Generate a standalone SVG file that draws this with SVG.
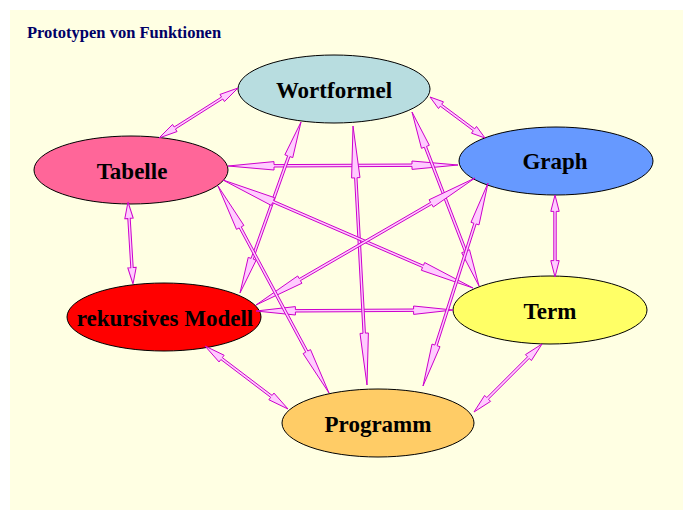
<svg xmlns="http://www.w3.org/2000/svg" xmlns:xlink="http://www.w3.org/1999/xlink" width="685" height="513" viewBox="0 0 685 513">
  <style>
    .node ellipse { stroke: #000; stroke-width: 1; }
    .node text { font-family: "Liberation Serif", "Times New Roman", serif; font-weight: bold; font-size: 23px; fill: #000; text-anchor: middle; }
    .title { font-family: "Liberation Serif", "Times New Roman", serif; font-weight: bold; font-size: 16.5px; fill: #000066; }
    .arr { fill: #ffccff; stroke: #cc00cc; stroke-width: 1; }
  </style>
  <defs>
    <polygon id="dbl" vector-effect="non-scaling-stroke" points="0,0 20,-4.2 20,-1.2 80,-1.2 80,-4.2 100,0 80,4.2 80,1.2 20,1.2 20,4.2"/>
  </defs>
  <rect x="10" y="10" width="673" height="500" fill="#ffffe3"/>
  <text class="title" x="27" y="38">Prototypen von Funktionen</text>

  <g id="wortformel" class="node">
    <ellipse cx="334" cy="89" rx="96" ry="34" fill="#b8dde0"/>
    <text x="334" y="98">Wortformel</text>
  </g>
  <g id="graph" class="node">
    <ellipse cx="556" cy="161" rx="97" ry="34" fill="#6699ff"/>
    <text x="555" y="169">Graph</text>
  </g>
  <g id="tabelle" class="node">
    <ellipse cx="131" cy="170" rx="97" ry="34" fill="#ff6699"/>
    <text x="132" y="179">Tabelle</text>
  </g>
  <g id="rekursives-modell" class="node">
    <ellipse cx="164" cy="317" rx="97" ry="34" fill="#ff0000"/>
    <text x="165" y="326">rekursives Modell</text>
  </g>
  <g id="term" class="node">
    <ellipse cx="550" cy="310" rx="97" ry="34" fill="#ffff66"/>
    <text x="550" y="319">Term</text>
  </g>
  <g id="programm" class="node">
    <ellipse cx="378" cy="423" rx="96" ry="34" fill="#ffcc66"/>
    <text x="378" y="432">Programm</text>
  </g>

  <g id="connectors" class="arr">
    <use xlink:href="#dbl" href="#dbl" transform="matrix(-0.79,0.5,-0.535,-0.845,238,88)"/>
    <use xlink:href="#dbl" href="#dbl" transform="matrix(0.55,0.41,-0.598,0.802,430,97)"/>
    <use xlink:href="#dbl" href="#dbl" transform="matrix(2.3,-0.01,0.0043,1,228,166)"/>
    <use xlink:href="#dbl" href="#dbl" transform="matrix(0.05,0.82,-0.998,0.0609,128,202)"/>
    <use xlink:href="#dbl" href="#dbl" transform="matrix(0,0.82,-1,0,555,195)"/>
    <use xlink:href="#dbl" href="#dbl" transform="matrix(1.97,-0.01,0.005,1,256,311)"/>
    <use xlink:href="#dbl" href="#dbl" transform="matrix(0.83,0.63,-0.6046,0.7966,205,346)"/>
    <use xlink:href="#dbl" href="#dbl" transform="matrix(-0.68,0.68,-0.7071,-0.7071,542,344)"/>
    <use xlink:href="#dbl" href="#dbl" transform="matrix(0.14,2.59,-0.9985,0.054,353,126)"/>
    <use xlink:href="#dbl" href="#dbl" transform="matrix(-0.61,1.71,-0.9419,-0.336,301,122)"/>
    <use xlink:href="#dbl" href="#dbl" transform="matrix(0.67,1.74,-0.9332,0.3593,412,112)"/>
    <use xlink:href="#dbl" href="#dbl" transform="matrix(2.5,1.08,-0.3966,0.918,223,180)"/>
    <use xlink:href="#dbl" href="#dbl" transform="matrix(-2.19,1.27,-0.5017,-0.865,475,178)"/>
    <use xlink:href="#dbl" href="#dbl" transform="matrix(-0.65,2.03,-0.9524,-0.305,488,183)"/>
    <use xlink:href="#dbl" href="#dbl" transform="matrix(1.11,2.07,-0.8812,0.4726,218,186)"/>
  </g>
</svg>
